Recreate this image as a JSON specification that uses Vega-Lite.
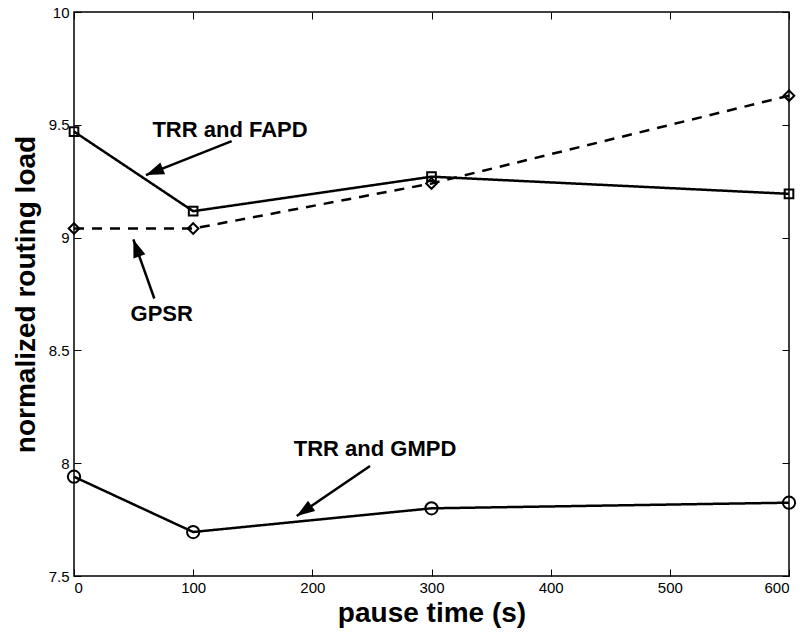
{
  "$schema": "https://vega.github.io/schema/vega-lite/v6.json",
  "width": 715,
  "height": 564,
  "autosize": {"type": "none"},
  "padding": {"left": 74, "top": 12, "right": 15, "bottom": 58},
  "background": "white",
  "config": {
    "view": {"stroke": "black", "strokeWidth": 1.5},
    "font": "Liberation Sans",
    "axis": {
      "grid": false,
      "domain": false,
      "tickColor": "black",
      "tickSize": -7,
      "tickWidth": 1,
      "labelColor": "black",
      "labelFontSize": 15,
      "labelFont": "Liberation Sans",
      "titleFont": "Liberation Sans",
      "titleFontSize": 28,
      "titleFontWeight": "bold",
      "titleColor": "black"
    }
  },
  "datasets": {
    "series": [
      {"series": "TRR and FAPD", "pause": 0, "load": 9.47},
      {"series": "TRR and FAPD", "pause": 100, "load": 9.117},
      {"series": "TRR and FAPD", "pause": 300, "load": 9.27},
      {"series": "TRR and FAPD", "pause": 600, "load": 9.194},
      {"series": "GPSR", "pause": 0, "load": 9.04},
      {"series": "GPSR", "pause": 100, "load": 9.04},
      {"series": "GPSR", "pause": 300, "load": 9.24},
      {"series": "GPSR", "pause": 600, "load": 9.629},
      {"series": "TRR and GMPD", "pause": 0, "load": 7.94},
      {"series": "TRR and GMPD", "pause": 100, "load": 7.695},
      {"series": "TRR and GMPD", "pause": 300, "load": 7.8},
      {"series": "TRR and GMPD", "pause": 600, "load": 7.825}
    ],
    "notes": [
      {"label": "TRR and FAPD", "lx": 130.9, "ly": 9.477, "tx": 132.3, "ty": 9.428, "hx": 60.4, "hy": 9.277},
      {"label": "GPSR", "lx": 73.6, "ly": 8.661, "tx": 67.4, "ty": 8.73, "hx": 49.8, "hy": 8.992},
      {"label": "TRR and GMPD", "lx": 252.6, "ly": 8.061, "tx": 248.4, "ty": 7.988, "hx": 186.9, "hy": 7.766}
    ]
  },
  "layer": [
    {
      "data": {"name": "series"},
      "mark": {"type": "line", "strokeWidth": 2.5, "color": "black"},
      "encoding": {
        "x": {"field": "pause", "type": "quantitative", "scale": {"domain": [0, 600], "nice": false},
              "axis": {"values": [0, 100, 200, 300, 400, 500, 600], "title": "pause time (s)", "labelPadding": 11, "titlePadding": 4}},
        "y": {"field": "load", "type": "quantitative", "scale": {"domain": [7.5, 10], "nice": false, "zero": false},
              "axis": {"values": [7.5, 8, 8.5, 9, 9.5, 10], "title": "normalized routing load", "labelExpr": "'' + datum.value", "labelPadding": 12, "titlePadding": 8}},
        "detail": {"field": "series", "type": "nominal"},
        "strokeDash": {"field": "series", "type": "nominal",
                       "scale": {"domain": ["TRR and FAPD", "GPSR", "TRR and GMPD"], "range": [[1, 0], [10, 8], [1, 0]]},
                       "legend": null}
      }
    },
    {
      "data": {"name": "series"},
      "mark": {"type": "point", "filled": false, "strokeWidth": 2, "color": "black", "opacity": 1},
      "encoding": {
        "x": {"field": "pause", "type": "quantitative", "axis": null},
        "y": {"field": "load", "type": "quantitative", "axis": null},
        "shape": {"field": "series", "type": "nominal",
                  "scale": {"domain": ["TRR and FAPD", "GPSR", "TRR and GMPD"], "range": ["square", "diamond", "circle"]},
                  "legend": null},
        "size": {"field": "series", "type": "nominal",
                 "scale": {"domain": ["TRR and FAPD", "GPSR", "TRR and GMPD"], "range": [75, 150, 62]},
                 "legend": null}
      }
    },
    {
      "data": {"name": "notes"},
      "mark": {"type": "rule", "strokeWidth": 2.5, "color": "black"},
      "encoding": {
        "x": {"field": "tx", "type": "quantitative", "axis": null},
        "y": {"field": "ty", "type": "quantitative", "axis": null},
        "x2": {"field": "hx"},
        "y2": {"field": "hy"}
      }
    },
    {
      "data": {"name": "notes"},
      "transform": [{"filter": "datum.label == 'TRR and FAPD'"}],
      "mark": {"type": "point", "shape": "M0,0L0.35,1L-0.35,1Z", "filled": true, "color": "black", "opacity": 1, "size": 1296, "angle": 248.4, "strokeWidth": 0},
      "encoding": {
        "x": {"field": "hx", "type": "quantitative", "axis": null},
        "y": {"field": "hy", "type": "quantitative", "axis": null}
      }
    },
    {
      "data": {"name": "notes"},
      "transform": [{"filter": "datum.label == 'GPSR'"}],
      "mark": {"type": "point", "shape": "M0,0L0.35,1L-0.35,1Z", "filled": true, "color": "black", "opacity": 1, "size": 1296, "angle": 340.4, "strokeWidth": 0},
      "encoding": {
        "x": {"field": "hx", "type": "quantitative", "axis": null},
        "y": {"field": "hy", "type": "quantitative", "axis": null}
      }
    },
    {
      "data": {"name": "notes"},
      "transform": [{"filter": "datum.label == 'TRR and GMPD'"}],
      "mark": {"type": "point", "shape": "M0,0L0.35,1L-0.35,1Z", "filled": true, "color": "black", "opacity": 1, "size": 1296, "angle": 235.7, "strokeWidth": 0},
      "encoding": {
        "x": {"field": "hx", "type": "quantitative", "axis": null},
        "y": {"field": "hy", "type": "quantitative", "axis": null}
      }
    },
    {
      "data": {"name": "notes"},
      "mark": {"type": "text", "fontSize": 22, "fontWeight": "bold", "font": "Liberation Sans", "color": "black", "align": "center", "baseline": "middle"},
      "encoding": {
        "x": {"field": "lx", "type": "quantitative", "axis": null},
        "y": {"field": "ly", "type": "quantitative", "axis": null},
        "text": {"field": "label"}
      }
    },
    {
      "data": {"name": "series"},
      "mark": {"type": "point", "opacity": 0},
      "encoding": {
        "x": {"field": "pause", "type": "quantitative",
              "axis": {"orient": "top", "values": [0, 100, 200, 300, 400, 500, 600], "labels": false, "title": null}},
        "y": {"field": "load", "type": "quantitative",
              "axis": {"orient": "right", "values": [7.5, 8, 8.5, 9, 9.5, 10], "labels": false, "title": null}}
      }
    }
  ],
  "resolve": {"axis": {"x": "independent", "y": "independent"}}
}
